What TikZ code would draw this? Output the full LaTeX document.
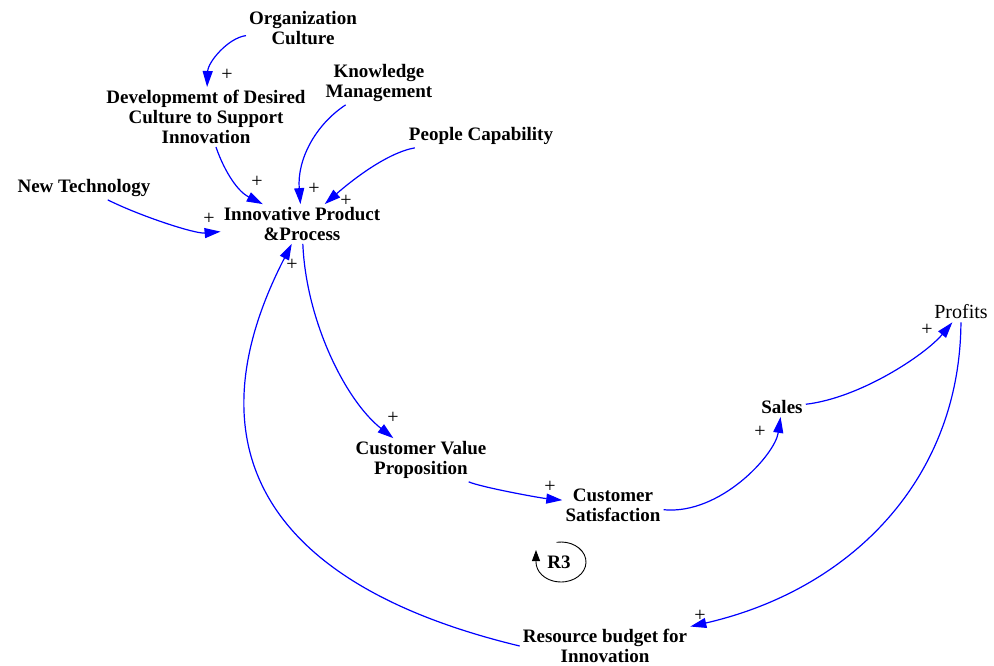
\documentclass[tikz,border=0pt]{standalone}
\usepackage{fontspec}
\setmainfont{Liberation Serif}
\usetikzlibrary{arrows.meta}
\begin{document}
\begin{tikzpicture}[x=1pt,y=-1pt,
  var/.style={font=\bfseries\fontsize{19}{20}\selectfont, align=center, inner sep=3pt},
  pol/.style={font=\fontsize{20}{20}\selectfont, inner sep=0pt},
  link/.style={draw=blue, line width=1.2pt, -{Triangle[length=16pt,width=10pt]}},
  loopline/.style={draw=black, line width=0.9pt, -{Triangle[length=11pt,width=8pt]}},
]
\useasboundingbox[fill=white] (0,0) rectangle (994,666);

% variables
\node[var] (org)     at (303,28)  {Organization\\Culture};
\node[var] (dev)     at (206,117) {Developmemt of Desired\\Culture to Support\\Innovation};
\node[var] (km)      at (379,83)  {Knowledge\\Management};
\node[var] (pc)      at (481,136) {People Capability};
\node[var] (nt)      at (84,188)  {New Technology};
\node[var] (ipp)     at (302,224) {Innovative Product\\\&Process};
\node[var] (cvp)     at (421,460) {Customer Value\\Proposition};
\node[var] (cs)      at (613,505) {Customer\\Satisfaction};
\node[var] (sales)   at (782,407) {Sales};
\node[var, font=\fontsize{20}{20}\selectfont] (profits) at (961,312) {Profits};
\node[var] (rb)      at (605,646) {Resource budget for\\Innovation};
\node[var] (r3)      at (559,562) {R3};
\coordinate (loopc) at (561,562);

% causal links
\draw[link] (org) .. controls (228,38) and (208,62) .. (dev);
\draw[link] (dev) .. controls (222,165) and (235,190) .. (ipp);
\draw[link] (km) .. controls (315,125) and (297,160) .. (ipp);
\draw[link] (pc) .. controls (386,153) and (350,182) .. (ipp);
\draw[link] (nt) .. controls (140,216) and (195,234) .. (ipp);
\draw[link] (ipp) .. controls (306,320) and (345,400) .. (cvp);
\draw[link] (cvp) .. controls (480,487) and (540,498) .. (cs);
\draw[link] (cs) .. controls (720,515) and (775,455) .. (sales);
\draw[link] (sales) .. controls (860,398) and (925,355) .. (profits);
\draw[link] (profits) .. controls (960,480) and (850,590) .. (rb);
\draw[link] (rb.west) .. controls (262,584) and (188,445) .. (ipp);

% link polarities
\node[pol] (p1)  at (227,75)  {+};
\node[pol] (p2)  at (257,182) {+};
\node[pol] (p3)  at (314,189) {+};
\node[pol] (p4)  at (346,201) {+};
\node[pol] (p5)  at (209,219) {+};
\node[pol] (p6)  at (393,418) {+};
\node[pol] (p7)  at (292,265) {+};
\node[pol] (p8)  at (550,487) {+};
\node[pol] (p9)  at (760,432) {+};
\node[pol] (p10) at (927,330) {+};
\node[pol] (p11) at (700,616) {+};

% reinforcing loop marker
\draw[loopline] (loopc) ++(-100:25 and 20)
  arc[start angle=-100, end angle=180, x radius=25, y radius=20] -- ++(0,-12);
\end{tikzpicture}
\end{document}
